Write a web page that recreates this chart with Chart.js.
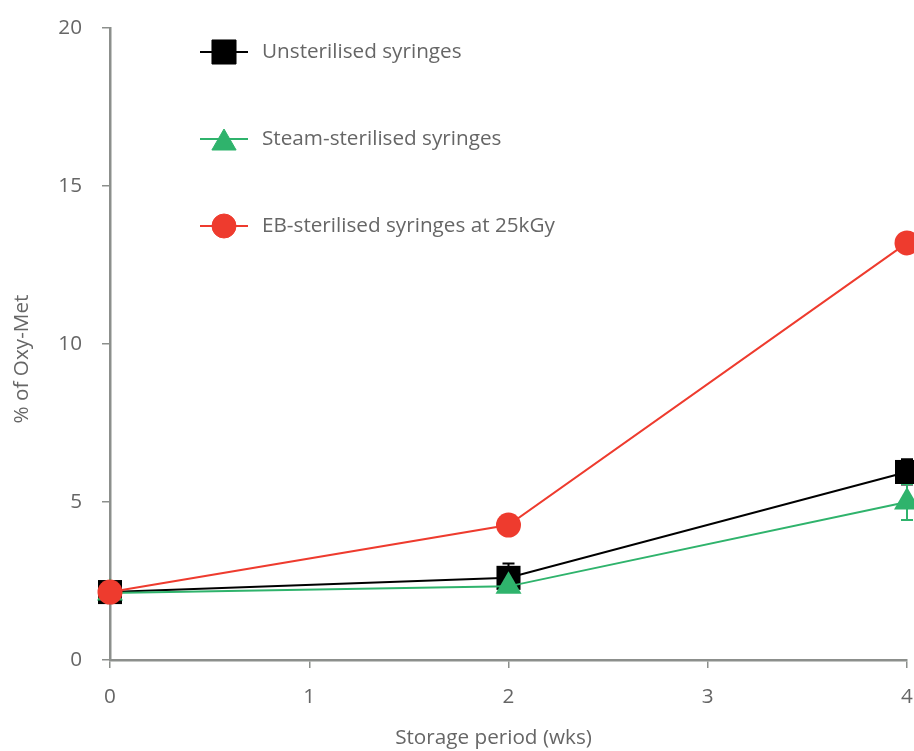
<!DOCTYPE html>
<html>
<head>
<meta charset="utf-8">
<script src="https://cdn.jsdelivr.net/npm/chart.js@4/dist/chart.umd.min.js"></script>
<style>
  html, body { margin: 0; padding: 0; background: #fff; }
  #wrap { width: 914px; height: 751px; position: relative; }
</style>
</head>
<body>
<div id="wrap"><canvas id="c" width="914" height="751"></canvas></div>
<script>
const weeks = [0, 2, 4];
const seriesLabels = ['Unsterilised syringes', 'Steam-sterilised syringes', 'EB-sterilised syringes at 25kGy'];
const unsterilised = [2.15, 2.6, 5.95];
const unsterilisedErr = [0.1, 0.45, 0.4];
const steam = [2.12, 2.33, 5.0];
const steamErr = [0.1, 0.15, 0.57];
const ebSterilised = [2.15, 4.27, 13.2];
const ebErr = [0.1, 0.2, 0.2];
const xTicks = [0, 1, 2, 3, 4];
const yTicks = [0, 5, 10, 15, 20];
const xTitle = 'Storage period (wks)';
const yTitle = '% of Oxy-Met';

const BLACK = '#000000', GREEN = '#2fb36c', RED = '#ee3b2e';
const AXIS = '#8c8f8c', TEXT = '#666666';
const FONT = '"Open Sans", Lato, sans-serif';
const FS = 20.7;

function pts(vals) { return weeks.map((w, i) => ({ x: w, y: vals[i] })); }

function shiftTitle(scale, dx, dy) {
  if (scale._titleShifted) return;
  const orig = scale.drawTitle;
  scale.drawTitle = function () {
    const ctx = this.ctx;
    ctx.save();
    ctx.translate(dx, dy);
    orig.apply(this, arguments);
    ctx.restore();
  };
  scale._titleShifted = true;
}

const errPlugin = {
  id: 'errbars',
  beforeDatasetsDraw(chart) {
    const ctx = chart.ctx, xs = chart.scales.x, ys = chart.scales.y;
    chart.data.datasets.forEach(ds => {
      if (!ds.errors) return;
      ctx.save();
      ctx.strokeStyle = ds.borderColor;
      ctx.lineWidth = 2;
      ds.data.forEach((p, i) => {
        const e = ds.errors[i];
        const px = xs.getPixelForValue(p.x);
        const y1 = ys.getPixelForValue(p.y + e), y2 = ys.getPixelForValue(p.y - e);
        ctx.beginPath();
        ctx.moveTo(px, y1); ctx.lineTo(px, y2);
        ctx.moveTo(px - 6, y1); ctx.lineTo(px + 6, y1);
        ctx.moveTo(px - 6, y2); ctx.lineTo(px + 6, y2);
        ctx.stroke();
      });
      ctx.restore();
    });
  }
};

const legendPlugin = {
  id: 'customLegend',
  afterDatasetsDraw(chart) {
    const ctx = chart.ctx;
    const rows = [52, 139, 226];
    const legendRadius = [17, 14, 12];
    chart.data.datasets.forEach((ds, i) => {
      const y = rows[i];
      ctx.save();
      ctx.strokeStyle = ds.borderColor;
      ctx.lineWidth = 2;
      ctx.beginPath(); ctx.moveTo(200, y); ctx.lineTo(248, y); ctx.stroke();
      ctx.restore();
      const yy = ds.pointStyle === 'triangle' ? y + 4 : y;
      ctx.save();
      ctx.fillStyle = ds.backgroundColor;
      ctx.strokeStyle = ds.backgroundColor;
      ctx.lineWidth = 1;
      Chart.helpers.drawPoint(ctx, { pointStyle: ds.pointStyle, rotation: 0, borderWidth: 1, radius: legendRadius[i] }, 224, yy);
      ctx.restore();
      ctx.save();
      ctx.fillStyle = TEXT;
      ctx.font = FS + 'px ' + FONT;
      ctx.textBaseline = 'middle';
      ctx.textAlign = 'left';
      ctx.fillText(seriesLabels[i], 262, y);
      ctx.restore();
    });
  }
};

new Chart(document.getElementById('c'), {
  type: 'line',
  data: {
    datasets: [
      { label: seriesLabels[0], data: pts(unsterilised), errors: unsterilisedErr, borderColor: BLACK, backgroundColor: BLACK,
        pointStyle: 'rect', pointRadius: 17, pointBorderWidth: 0, borderWidth: 2, order: 3, clip: false },
      { label: seriesLabels[1], data: pts(steam), errors: steamErr, borderColor: GREEN, backgroundColor: GREEN,
        pointStyle: 'triangle', pointRadius: 15, pointBorderWidth: 0, borderWidth: 2, order: 2, clip: false },
      { label: seriesLabels[2], data: pts(ebSterilised), errors: ebErr, borderColor: RED, backgroundColor: RED,
        pointStyle: 'circle', pointRadius: 12.5, pointBorderWidth: 0, borderWidth: 2, order: 1, clip: false }
    ]
  },
  options: {
    responsive: false,
    animation: false,
    layout: { autoPadding: false, padding: { top: 28, right: 7, left: 0, bottom: 0 } },
    plugins: { legend: { display: false }, tooltip: { enabled: false } },
    elements: { line: { tension: 0 } },
    scales: {
      x: {
        type: 'linear', min: 0, max: 4,
        afterBuildTicks: s => { s.ticks = xTicks.map(v => ({ value: v })); shiftTitle(s, -15, 0); },
        afterFit: s => { s.height = 91; s.paddingLeft = 0; s.paddingRight = 0; },
        grid: { drawOnChartArea: false, drawTicks: true, tickLength: 8, color: AXIS, lineWidth: 1.5 },
        border: { display: true, color: AXIS, width: 2.5 },
        ticks: { color: TEXT, font: { size: FS, family: FONT }, padding: 17, maxRotation: 0 },
        title: { display: true, text: xTitle, color: TEXT, font: { size: FS, family: FONT }, padding: { top: 0, bottom: 0 } }
      },
      y: {
        type: 'linear', min: 0, max: 20,
        afterBuildTicks: s => { s.ticks = yTicks.map(v => ({ value: v })); shiftTitle(s, 0, 15); },
        afterFit: s => { s.width = 110; s.paddingTop = 0; s.paddingBottom = 0; },
        grid: { drawOnChartArea: false, drawTicks: true, tickLength: 8, color: AXIS, lineWidth: 1.5 },
        border: { display: true, color: AXIS, width: 2.5 },
        ticks: { color: TEXT, font: { size: FS, family: FONT }, padding: 20 },
        title: { display: true, text: yTitle, color: TEXT, font: { size: FS, family: FONT }, padding: { top: 10, bottom: 0 } }
      }
    }
  },
  plugins: [errPlugin, legendPlugin]
});
</script>
</body>
</html>
